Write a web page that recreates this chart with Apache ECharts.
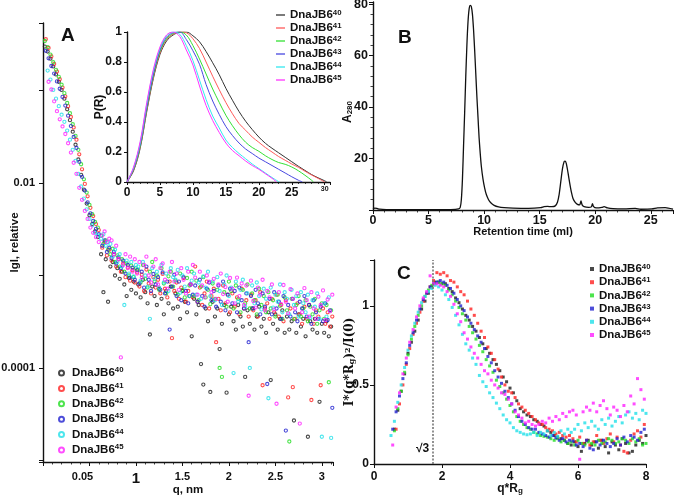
<!DOCTYPE html>
<html><head><meta charset="utf-8">
<script src="https://cdn.jsdelivr.net/npm/echarts@6/dist/echarts.min.js"></script>
<style>html,body{margin:0;padding:0;background:#fff}#c{width:675px;height:498px}</style>
</head><body><div id="c"></div>
<script>
// ---------- common ----------
const variantIds = ['40', '41', '42', '43', '44', '45'];
const pointColors = ['#1a1a1a', '#ff2020', '#20dd20', '#2020d0', '#20e0e8', '#ff20ff'];
const lineColors = ['#333333', '#ff5a5a', '#33e033', '#4848e0', '#33e8f0', '#ff33ff'];

// ---------- panel A : |I| vs q (log) ----------
const qSteepA = [0.02,0.05,0.08,0.11,0.14,0.17,0.20,0.23,0.26,0.29,0.32,0.35,0.38,0.41,0.44,0.47,0.50,0.53,0.56,0.59];
const qSteepB = [0.03,0.06,0.09,0.12,0.15,0.18,0.21,0.24,0.27,0.30,0.33,0.36,0.39,0.42,0.45,0.48,0.51,0.54,0.57,0.60];
const qFlatA = [0.625,0.65,0.675,0.70,0.725,0.75,0.775,0.80,0.825,0.85,0.875,0.90,0.925,0.95,0.975,1.00,1.025,1.05,1.075,1.10,
  1.125,1.15,1.175,1.20,1.225,1.25,1.275,1.30,1.325,1.35,1.375,1.40,1.425,1.45,1.475,1.50,1.525,1.55,1.575,1.60,
  1.625,1.65,1.675,1.70,1.725,1.75,1.775,1.80,1.825,1.85,1.875,1.90,1.925,1.95,1.975,2.00,2.025,2.05,2.075,2.10,
  2.125,2.15,2.175,2.20,2.225,2.25,2.275,2.30,2.325,2.35,2.375,2.40,2.425,2.45,2.475,2.50,2.525,2.55,2.575,2.60,
  2.625,2.65,2.675,2.70,2.725,2.75,2.775,2.80,2.825,2.85,2.875,2.90,2.925,2.95,2.975,3.00,3.025,3.05,3.075,3.10];
const qFlatB = [0.6375,0.6625,0.6875,0.7125,0.7375,0.7625,0.7875,0.8125,0.8375,0.8625,0.8875,0.9125,0.9375,0.9625,0.9875,1.0125,1.0375,1.0625,1.0875,1.1125,
  1.1375,1.1625,1.1875,1.2125,1.2375,1.2625,1.2875,1.3125,1.3375,1.3625,1.3875,1.4125,1.4375,1.4625,1.4875,1.5125,1.5375,1.5625,1.5875,1.6125,
  1.6375,1.6625,1.6875,1.7125,1.7375,1.7625,1.7875,1.8125,1.8375,1.8625,1.8875,1.9125,1.9375,1.9625,1.9875,2.0125,2.0375,2.0625,2.0875,2.1125,
  2.1375,2.1625,2.1875,2.2125,2.2375,2.2625,2.2875,2.3125,2.3375,2.3625,2.3875,2.4125,2.4375,2.4625,2.4875,2.5125,2.5375,2.5625,2.5875,2.6125,
  2.6375,2.6625,2.6875,2.7125,2.7375,2.7625,2.7875,2.8125,2.8375,2.8625,2.8875,2.9125,2.9375,2.9625,2.9875,3.0125,3.0375,3.0625,3.0875,3.1125];
const steep40 = [0.30,0.265,0.222,0.183,0.150,0.125,0.102,0.082,0.063,0.048,0.036,0.026,0.018,0.0123,0.0085,0.0060,0.0045,0.0036,0.0030,0.0026];
const steep41 = [0.36,0.29,0.235,0.195,0.161,0.133,0.108,0.087,0.068,0.052,0.040,0.0295,0.0205,0.0141,0.0098,0.0072,0.0054,0.0044,0.0036,0.0031];
const steep42 = [0.345,0.296,0.246,0.203,0.168,0.141,0.116,0.094,0.0736,0.0571,0.0434,0.0324,0.0229,0.0160,0.0110,0.0079,0.0058,0.0046,0.0038,0.0033];
const steep43 = [0.27,0.224,0.185,0.153,0.126,0.105,0.0857,0.069,0.0537,0.0414,0.0316,0.0240,0.0170,0.0117,0.0083,0.0062,0.0047,0.0039,0.0032,0.0028];
const steep44 = [null,0.165,0.132,0.102,0.082,0.068,0.055,0.046,0.037,0.0295,0.0229,0.0174,0.0126,0.0092,0.0068,0.0052,0.0041,0.0035,0.0029,0.0027];
const steep45 = [null,0.125,0.103,0.0767,0.060,0.049,0.041,0.034,0.027,0.0214,0.0166,0.0126,0.0089,0.0066,0.0050,0.0041,0.0033,0.0029,0.0026,0.0023];
const flat40 = [17e-4,6.6e-4,15e-4,5.2e-4,12.5e-4,14e-4,10e-4,12e-4,9.2e-4,11e-4,8.0e-4,6.0e-4,9.4e-4,7.0e-4,8.6e-4,6.4e-4,
  8.0e-4,5.8e-4,9.0e-4,6.6e-4,5.0e-4,2.3e-4,7.6e-4,6.0e-4,4.8e-4,7.2e-4,5.6e-4,3.8e-4,6.8e-4,5.0e-4,7.6e-4,4.4e-4,
  6.4e-4,4.6e-4,3.4e-4,6.8e-4,5.2e-4,4.0e-4,6.0e-4,2.2e-4,5.6e-4,3.8e-4,4.8e-4,1.1e-4,0.66e-4,4.4e-4,3.2e-4,0.55e-4,
  5.2e-4,3.6e-4,4.4e-4,1.6e-4,3.0e-4,4.8e-4,0.54e-4,3.8e-4,4.6e-4,3.2e-4,2.6e-4,4.8e-4,3.6e-4,2.8e-4,0.80e-4,4.2e-4,
  3.0e-4,4.4e-4,2.6e-4,3.6e-4,4.6e-4,2.8e-4,3.4e-4,2.4e-4,4.0e-4,0.74e-4,3.0e-4,3.8e-4,2.6e-4,3.4e-4,4.2e-4,2.4e-4,
  3.6e-4,2.6e-4,3.2e-4,0.27e-4,2.4e-4,3.8e-4,2.8e-4,3.4e-4,2.2e-4,0.18e-4,3.2e-4,2.6e-4,3.4e-4,2.4e-4,0.43e-4,3.0e-4,
  2.4e-4,3.2e-4,2.2e-4,2.8e-4];
const flat41 = [20e-4,23e-4,16.5e-4,19e-4,14.5e-4,17e-4,12.5e-4,15e-4,11e-4,13.5e-4,9.6e-4,12.2e-4,8.8e-4,11.4e-4,8.4e-4,10.8e-4,
  7.6e-4,10.2e-4,6.8e-4,11.6e-4,8.2e-4,6.4e-4,9.6e-4,7.4e-4,9.0e-4,6.4e-4,10.4e-4,7.2e-4,5.8e-4,8.6e-4,2.1e-4,6.8e-4,
  8.4e-4,5.6e-4,7.4e-4,9.4e-4,5.2e-4,6.8e-4,8.0e-4,5.8e-4,12.5e-4,5.2e-4,7.4e-4,4.8e-4,6.4e-4,8.6e-4,4.4e-4,6.0e-4,
  7.2e-4,1.9e-4,5.6e-4,4.2e-4,7.8e-4,5.0e-4,6.2e-4,4.0e-4,6.4e-4,4.6e-4,5.8e-4,3.8e-4,7.2e-4,4.4e-4,5.4e-4,3.6e-4,
  6.2e-4,4.2e-4,5.4e-4,3.6e-4,6.6e-4,0.65e-4,4.4e-4,5.0e-4,3.4e-4,5.6e-4,4.0e-4,6.2e-4,3.6e-4,4.8e-4,3.2e-4,5.4e-4,
  0.48e-4,4.4e-4,0.62e-4,3.4e-4,5.0e-4,3.8e-4,3.0e-4,4.6e-4,3.4e-4,4.8e-4,0.45e-4,3.0e-4,4.2e-4,3.6e-4,0.65e-4,4.4e-4,
  3.0e-4,4.0e-4,2.8e-4,3.6e-4];
const flat42 = [27e-4,22e-4,24e-4,19e-4,17e-4,19.5e-4,14e-4,16.5e-4,12.5e-4,15e-4,11e-4,13.5e-4,10e-4,12.8e-4,9.6e-4,12e-4,
  11.5e-4,8.4e-4,13e-4,9.2e-4,7.4e-4,11e-4,14e-4,8.6e-4,10e-4,7.0e-4,12e-4,8.2e-4,6.4e-4,9.8e-4,11e-4,7.6e-4,
  8.8e-4,6.2e-4,10.5e-4,7.0e-4,5.8e-4,9.4e-4,7.8e-4,11e-4,6.0e-4,8.8e-4,5.4e-4,7.6e-4,9.6e-4,5.8e-4,7.0e-4,4.9e-4,
  8.2e-4,5.6e-4,7.0e-4,1.0e-4,0.8e-4,6.6e-4,4.6e-4,8.6e-4,6.8e-4,4.4e-4,7.8e-4,5.6e-4,4.0e-4,7.0e-4,5.0e-4,8.0e-4,
  4.4e-4,6.4e-4,5.4e-4,3.8e-4,7.2e-4,4.8e-4,6.0e-4,4.0e-4,6.6e-4,4.4e-4,5.4e-4,3.6e-4,6.2e-4,4.7e-4,3.4e-4,5.8e-4,
  4.2e-4,0.16e-4,5.6e-4,3.4e-4,4.8e-4,6.0e-4,3.6e-4,4.4e-4,5.4e-4,3.2e-4,4.6e-4,3.8e-4,5.6e-4,3.0e-4,4.2e-4,5.0e-4,
  3.4e-4,4.8e-4,0.7e-4,4.2e-4];
const flat43 = [21e-4,24e-4,18e-4,20e-4,15.5e-4,18e-4,13.5e-4,15.8e-4,12e-4,14.5e-4,10.5e-4,13e-4,9.5e-4,12.2e-4,9.0e-4,11.5e-4,
  8.2e-4,11e-4,7.4e-4,12.5e-4,9.0e-4,6.8e-4,10.4e-4,8.0e-4,9.6e-4,7.0e-4,10.8e-4,6.4e-4,8.6e-4,2.6e-4,7.6e-4,10.2e-4,
  6.0e-4,8.6e-4,5.4e-4,9.6e-4,6.8e-4,5.0e-4,8.0e-4,6.2e-4,7.8e-4,5.2e-4,9.0e-4,6.0e-4,4.6e-4,7.2e-4,8.4e-4,5.4e-4,
  6.8e-4,4.6e-4,7.8e-4,5.2e-4,8.6e-4,4.2e-4,6.2e-4,7.2e-4,5.0e-4,6.8e-4,4.0e-4,7.4e-4,5.4e-4,4.4e-4,6.4e-4,1.9e-4,
  6.0e-4,4.4e-4,7.0e-4,5.0e-4,3.8e-4,6.4e-4,4.6e-4,0.67e-4,5.6e-4,3.8e-4,6.6e-4,4.4e-4,5.2e-4,3.4e-4,6.0e-4,0.21e-4,
  4.8e-4,3.6e-4,5.6e-4,4.0e-4,3.2e-4,5.2e-4,4.4e-4,6.0e-4,3.6e-4,4.8e-4,3.0e-4,5.4e-4,4.0e-4,3.4e-4,4.6e-4,3.2e-4,
  5.0e-4,3.3e-4,4.2e-4,0.37e-4];
const flat44 = [25e-4,28e-4,21e-4,23e-4,22e-4,16e-4,19e-4,14e-4,17e-4,12.5e-4,4.8e-4,14.5e-4,10.5e-4,14e-4,9.8e-4,13e-4,
  12.5e-4,8.8e-4,14e-4,10e-4,7.6e-4,3.4e-4,12e-4,9.2e-4,11e-4,7.4e-4,13e-4,8.4e-4,10.5e-4,6.8e-4,12e-4,9.6e-4,
  9.0e-4,11.5e-4,6.5e-4,10e-4,7.6e-4,12e-4,6.0e-4,8.8e-4,10.5e-4,6.2e-4,8.4e-4,5.6e-4,9.8e-4,7.4e-4,11e-4,6.0e-4,
  8.6e-4,5.4e-4,9.6e-4,6.8e-4,4.8e-4,8.0e-4,10e-4,6.0e-4,7.4e-4,0.88e-4,8.6e-4,5.2e-4,7.0e-4,9.0e-4,4.6e-4,6.4e-4,
  1.0e-4,7.8e-4,5.0e-4,8.4e-4,6.0e-4,4.3e-4,7.2e-4,5.6e-4,0.47e-4,7.4e-4,4.5e-4,6.2e-4,5.2e-4,8.0e-4,4.0e-4,6.6e-4,
  5.6e-4,3.8e-4,7.0e-4,4.8e-4,6.0e-4,3.6e-4,6.6e-4,5.0e-4,4.0e-4,6.2e-4,3.5e-4,5.4e-4,4.6e-4,6.4e-4,3.4e-4,0.18e-4,
  5.0e-4,3.6e-4,5.8e-4,0.175e-4];
const flat45 = [27e-4,30e-4,23e-4,25e-4,24e-4,17e-4,21e-4,15e-4,1.3e-4,13e-4,17e-4,12e-4,16e-4,11e-4,15e-4,10.5e-4,
  14e-4,9.5e-4,13e-4,16e-4,10e-4,8.4e-4,12.5e-4,15e-4,8.0e-4,12e-4,13.5e-4,9.0e-4,7.2e-4,11e-4,14e-4,8.6e-4,
  10.5e-4,7.0e-4,12e-4,9.0e-4,6.4e-4,11e-4,8.0e-4,13e-4,9.5e-4,6.2e-4,11e-4,7.8e-4,5.8e-4,10e-4,8.6e-4,6.6e-4,
  9.2e-4,5.6e-4,8.0e-4,10.5e-4,6.3e-4,7.5e-4,5.2e-4,9.4e-4,7.2e-4,5.0e-4,9.5e-4,6.0e-4,8.2e-4,4.8e-4,7.8e-4,0.5e-4,
  8.8e-4,5.3e-4,4.5e-4,7.4e-4,6.2e-4,9.0e-4,4.2e-4,6.8e-4,5.8e-4,8.0e-4,4.3e-4,0.41e-4,6.6e-4,4.9e-4,7.9e-4,5.2e-4,
  3.9e-4,7.1e-4,5.6e-4,4.4e-4,6.4e-4,0.25e-4,4.0e-4,7.3e-4,5.4e-4,3.6e-4,6.6e-4,4.4e-4,3.4e-4,5.9e-4,4.8e-4,6.9e-4,
  3.3e-4,5.5e-4,4.1e-4,6.2e-4];
const aXTickValues = [0.5, 1, 1.5, 2, 2.5, 3];
const aXTickTexts = ['0.05', '1', '1.5', '2', '2.5', '3'];
const aYTickExponents = [-2, -4];
const aYTickTexts = ['0.01', '0.0001'];

// ---------- inset : P(R) ----------
const rP = [0,1,2,3,4,5,6,7,8,9,10,11,12,13,14,15,16,17,18,19,20,21,22,23,24,25,26,27,28,29,30];
const pr40 = [0,0.075,0.225,0.47,0.69,0.85,0.94,0.98,0.998,1.0,0.975,0.935,0.87,0.795,0.715,0.625,0.545,0.47,0.405,0.35,0.30,0.258,0.225,0.195,0.165,0.135,0.105,0.077,0.05,0.028,0.008];
const pr41 = [0,0.08,0.235,0.48,0.70,0.86,0.95,0.985,1.0,0.995,0.955,0.89,0.80,0.705,0.615,0.53,0.455,0.39,0.345,0.30,0.265,0.23,0.20,0.17,0.145,0.12,0.098,0.072,0.047,0.024];
const pr42 = [0,0.085,0.24,0.49,0.71,0.87,0.955,0.99,1.0,0.98,0.91,0.82,0.72,0.62,0.53,0.445,0.375,0.315,0.265,0.23,0.205,0.175,0.15,0.13,0.118,0.10,0.075,0.045,0.012];
const pr43 = [0,0.09,0.25,0.50,0.72,0.88,0.965,0.995,1.0,0.95,0.875,0.785,0.65,0.54,0.45,0.37,0.31,0.26,0.22,0.19,0.16,0.135,0.11,0.085,0.06,0.035,0.012];
const pr44 = [0,0.095,0.26,0.52,0.74,0.89,0.975,1.0,0.985,0.91,0.81,0.68,0.55,0.44,0.36,0.28,0.23,0.19,0.155,0.12,0.09,0.06,0.03];
const pr45 = [0,0.10,0.27,0.53,0.75,0.90,0.98,1.0,0.97,0.88,0.78,0.64,0.51,0.41,0.33,0.26,0.21,0.175,0.14,0.11,0.085,0.055,0.025];
const dMax = [30.3, 30.0, 28.3, 26.6, 23.1, 22.7];

// ---------- panel B : chromatogram ----------
const retention = [0,0.15,0.35,0.6,1.2,3,5,7,7.7,7.85,7.95,8.05,8.15,8.25,8.35,8.45,8.55,8.65,8.75,8.85,8.95,9.05,9.15,9.25,9.35,9.45,9.55,9.65,9.75,9.9,
  10.05,10.2,10.4,10.6,10.9,11.3,11.8,12.6,14,15.1,15.4,15.7,16.1,16.4,16.6,16.75,16.9,17.05,17.2,17.3,17.4,17.55,17.7,17.85,18.0,18.2,18.4,18.6,18.72,18.82,
  19.0,19.4,19.65,19.75,19.85,20.1,20.6,20.8,21.1,21.6,22.6,23.6,24.1,25.1,25.6,26.3,27.0];
const a280 = [0.3,0.7,0.6,0.3,0.15,0.1,0.1,0.15,0.4,1.0,4,12,25,38,52,64,73,78,79.5,79,76,70,62,53,44,36,28,22,17,12,
  8.5,6,4,2.8,1.8,1.2,0.9,0.7,0.6,0.9,1.3,1.4,1.3,1.6,3,6,11,16,18.8,19,18,14.5,10.5,7,4.5,3,2.2,2.0,3.5,2.0,
  1.3,1.0,1.2,2.5,1.3,0.8,1.0,1.3,0.8,0.5,0.4,0.6,0.3,0.4,0.8,0.9,0.3];

// ---------- panel C : Kratky ----------
const qRgA = [0.5,0.6,0.7,0.8,0.9,1.0,1.1,1.2,1.3,1.4,1.5,1.6,1.7,1.8,1.9,2.0,2.1,2.2,2.3,2.4,2.5,2.6,2.7,2.8,2.9,3.0,3.1,3.2,3.3,3.4,
  3.5,3.6,3.7,3.8,3.9,4.0,4.1,4.2,4.3,4.4,4.5,4.6,4.7,4.8,4.9,5.0,5.1,5.2,5.3,5.4,5.5,5.6,5.7,5.8,5.9,6.0,6.1,6.2,6.3,6.4,
  6.5,6.6,6.7,6.8,6.9,7.0,7.1,7.2,7.3,7.4,7.5,7.6,7.7,7.8,7.9,8.0];
const qRgB = [0.55,0.65,0.75,0.85,0.95,1.05,1.15,1.25,1.35,1.45,1.55,1.65,1.75,1.85,1.95,2.05,2.15,2.25,2.35,2.45,2.55,2.65,2.75,2.85,2.95,3.05,3.15,3.25,3.35,3.45,
  3.55,3.65,3.75,3.85,3.95,4.05,4.15,4.25,4.35,4.45,4.55,4.65,4.75,4.85,4.95,5.05,5.15,5.25,5.35,5.45,5.55,5.65,5.75,5.85,5.95,6.05,6.15,6.25,6.35,6.45,
  6.55,6.65,6.75,6.85,6.95,7.05,7.15,7.25,7.35,7.45,7.55,7.65,7.75,7.85,7.95];
const kratky40 = [null,0.22,0.34,0.46,0.57,0.70,0.77,0.84,0.91,0.98,1.03,1.08,1.12,1.15,1.15,1.14,1.14,1.11,1.09,1.05,
  1.02,0.98,0.94,0.91,0.87,0.84,0.80,0.76,0.73,0.70,0.66,0.63,0.59,0.55,0.52,0.48,0.45,0.40,0.35,0.33,
  0.31,0.30,0.28,0.27,0.25,0.24,0.21,0.20,0.18,0.17,0.16,0.15,0.13,0.12,0.14,0.11,0.08,0.13,0.15,0.12,
  0.14,0.10,0.15,0.11,0.07,0.14,0.12,0.09,0.16,0.13,0.07,0.08,0.12,0.15,0.13,0.18];
const kratky41 = [null,0.22,0.38,0.50,0.63,0.73,0.82,0.89,0.96,1.03,1.08,1.12,1.16,1.21,1.20,1.21,1.19,1.16,1.15,1.12,
  1.09,1.07,1.03,0.98,0.94,0.89,0.84,0.80,0.74,0.70,0.66,0.60,0.55,0.50,0.46,0.45,0.42,0.38,0.36,0.34,
  0.32,0.30,0.28,0.26,0.25,0.23,0.22,0.21,0.19,0.20,0.18,0.17,0.18,0.16,0.14,0.17,0.13,0.15,0.12,0.14,
  0.18,0.15,0.13,0.16,0.19,0.14,0.17,0.12,0.08,0.07,0.15,0.19,0.21,0.17,0.25];
const kratky42 = [null,0.21,0.35,0.46,0.58,0.69,0.79,0.87,0.94,1.00,1.06,1.10,1.13,1.14,1.15,1.14,1.13,1.10,1.07,1.03,
  0.99,0.95,0.91,0.87,0.83,0.79,0.75,0.71,0.66,0.62,0.58,0.53,0.49,0.45,0.41,0.37,0.33,0.30,0.27,0.25,
  0.23,0.22,0.20,0.19,0.18,0.175,0.17,0.16,0.15,0.16,0.14,0.15,0.13,0.14,0.12,0.15,0.13,0.12,0.14,0.13,
  0.12,0.15,0.13,0.14,0.16,0.15,0.13,0.14,0.16,0.15,0.13,0.16,0.14,0.16,0.12,0.13];
const kratky43 = [0.22,0.33,0.43,0.54,0.64,0.75,0.83,0.91,0.98,1.04,1.08,1.12,1.14,1.15,1.16,1.15,1.13,1.11,1.08,1.04,
  1.00,0.97,0.93,0.89,0.85,0.81,0.77,0.73,0.68,0.64,0.59,0.55,0.51,0.46,0.42,0.38,0.34,0.30,0.27,0.25,
  0.23,0.22,0.22,0.20,0.19,0.18,0.17,0.18,0.165,0.15,0.16,0.14,0.15,0.145,0.12,0.13,0.11,0.15,0.10,0.09,
  0.14,0.12,0.15,0.13,0.11,0.13,0.16,0.12,0.17,0.14,0.18,0.17,0.15,0.20,0.22];
const kratky44 = [0.18,0.27,0.39,0.50,0.61,0.72,0.81,0.89,0.96,1.02,1.06,1.09,1.11,1.13,1.12,1.10,1.07,1.04,0.99,0.94,
  0.88,0.82,0.76,0.72,0.67,0.63,0.56,0.52,0.49,0.45,0.42,0.385,0.35,0.31,0.28,0.26,0.23,0.21,0.20,0.19,
  0.185,0.19,0.20,0.18,0.20,0.19,0.21,0.18,0.20,0.175,0.21,0.19,0.22,0.20,0.22,0.25,0.21,0.26,0.23,0.27,
  0.24,0.22,0.28,0.25,0.29,0.24,0.27,0.30,0.26,0.31,0.33,0.29,0.32,0.28,0.34,0.32];
const kratky45 = [0.12,0.36,0.45,0.57,0.67,0.77,0.85,0.93,1.00,1.05,1.09,1.19,1.14,1.14,1.13,1.12,1.09,1.06,1.01,0.95,
  0.90,0.83,0.79,0.74,0.70,0.67,0.63,0.59,0.57,0.53,0.50,0.48,0.45,0.44,0.41,0.38,0.33,0.31,0.29,0.26,
  0.27,0.25,0.24,0.25,0.27,0.26,0.29,0.27,0.30,0.28,0.32,0.30,0.33,0.34,0.31,0.03,0.33,0.36,0.34,0.385,
  0.33,0.37,0.40,0.35,0.31,0.36,0.34,0.30,0.37,0.33,0.43,0.38,0.54,0.47,0.41];
const sqrt3Marker = 1.732;

// ---------- build ----------
const FONT = '"Liberation Sans", Arial, sans-serif';
const SERIF = '"DejaVu Serif", "Liberation Serif", serif';
const INK = '#111';
const baseLabel = { color: INK, fontFamily: FONT, fontWeight: 'bold', fontSize: 12 };
const axisLineS = { show: true, lineStyle: { color: INK, width: 1.4 } };
const tickS = (len) => ({ show: true, length: len, inside: false, lineStyle: { color: INK, width: 1 } });
const minorS = (n, len) => ({ show: true, splitNumber: n, length: len, lineStyle: { color: INK, width: 0.8 } });
const noSplit = { show: false };

function legendRich(fs, lh) {
  return {
    n: { fontFamily: FONT, fontWeight: 'bold', fontSize: fs, color: INK, lineHeight: lh },
    s: { fontFamily: FONT, fontWeight: 'bold', fontSize: fs * 0.68, color: INK, verticalAlign: 'top', lineHeight: fs * 0.8 }
  };
}
const legendFormatter = (name) => '{n|DnaJB6}{s|' + name.slice(1) + '}';

const series = [];
const steepVals = [steep40, steep41, steep42, steep43, steep44, steep45];
const flatVals = [flat40, flat41, flat42, flat43, flat44, flat45];
const steepQs = [qSteepA, qSteepB, qSteepA, qSteepB, qSteepA, qSteepB];
const flatQs = [qFlatA, qFlatB, qFlatA, qFlatB, qFlatA, qFlatB];
variantIds.forEach((id, i) => {
  const pts = steepQs[i].map((q, k) => [q, steepVals[i][k]])
    .concat(flatQs[i].map((q, k) => [q, flatVals[i][k]]))
    .filter(d => d[1] != null);
  series.push({
    type: 'scatter', name: 'A' + id, xAxisIndex: 0, yAxisIndex: 0,
    symbol: 'circle', symbolSize: 3.2,
    itemStyle: { color: 'rgba(255,255,255,0)', borderColor: pointColors[i], borderWidth: 1.1 },
    data: pts
  });
});
const prVals = [pr40, pr41, pr42, pr43, pr44, pr45];
variantIds.forEach((id, i) => {
  series.push({
    type: 'line', name: 'P' + id, xAxisIndex: 1, yAxisIndex: 1,
    showSymbol: false, symbol: 'none', smooth: 0.35,
    lineStyle: { color: lineColors[i], width: 1 }, itemStyle: { color: lineColors[i] },
    data: prVals[i].map((p, k) => [rP[k], p]).concat([[dMax[i], 0]])
  });
});
series.push({
  type: 'line', name: 'B', xAxisIndex: 2, yAxisIndex: 2, showSymbol: false, symbol: 'none', smooth: 0.25,
  lineStyle: { color: INK, width: 1.3 },
  data: retention.map((x, k) => [x, a280[k]])
});
const cVals = [kratky40, kratky41, kratky42, kratky43, kratky44, kratky45];
const cQs = [qRgA, qRgB, qRgA, qRgB, qRgA, qRgB];
variantIds.forEach((id, i) => {
  const s = {
    type: 'scatter', name: 'C' + id, xAxisIndex: 3, yAxisIndex: 3,
    symbol: 'rect', symbolSize: 3,
    itemStyle: { color: pointColors[i] },
    data: cQs[i].map((q, k) => [q, cVals[i][k]]).filter(d => d[1] != null)
  };
  if (i === 0) {
    s.markLine = {
      silent: true, symbol: ['none', 'none'], label: { show: false },
      lineStyle: { color: '#777', type: [2, 1.5], width: 1.6 },
      data: [{ xAxis: sqrt3Marker }]
    };
  }
  series.push(s);
});

const option = {
  animation: false,
  backgroundColor: '#fff',
  grid: [
    { left: 43, top: 23, width: 290, height: 439, outerBoundsMode: 'none' },
    { left: 127, top: 32, width: 203, height: 150, outerBoundsMode: 'none' },
    { left: 373, top: 2, width: 300, height: 208, outerBoundsMode: 'none' },
    { left: 374, top: 260, width: 272, height: 204, outerBoundsMode: 'none' }
  ],
  xAxis: [
    { gridIndex: 0, type: 'value', min: 0, max: 3.12, interval: 0.5,
      axisLine: axisLineS, axisTick: tickS(4), minorTick: minorS(5, 2.5), splitLine: noSplit,
      axisLabel: Object.assign({}, baseLabel, { fontSize: 11, margin: 9,
        formatter: (v) => { const k = aXTickValues.indexOf(v); if (k < 0) return ''; const t = aXTickTexts[k];
          return t === '1' ? '{big|1}' : (k === 0 ? '{sh|' + t + '}' : t); },
        rich: { big: { fontSize: 15, fontWeight: 'bold', fontFamily: FONT, color: INK },
                sh: { fontSize: 11, fontWeight: 'bold', fontFamily: FONT, color: INK, padding: [0, 14, 0, 0] } } }),
      name: 'q, nm', nameLocation: 'middle', nameGap: 22, nameMoveOverlap: false,
      nameTextStyle: { color: INK, fontFamily: FONT, fontWeight: 'bold', fontSize: 11.5 } },
    { gridIndex: 1, type: 'value', min: 0, max: 30.8, interval: 5,
      axisLine: axisLineS, axisTick: tickS(3), minorTick: minorS(5, 2), splitLine: noSplit,
      axisLabel: Object.assign({}, baseLabel, { margin: 5,
        formatter: (v) => v === 30 ? '{s|30}' : (v % 5 === 0 && v < 30 ? String(v) : ''),
        rich: { s: { fontSize: 7, fontWeight: 'bold', fontFamily: FONT, color: INK, lineHeight: 5 } } }) },
    { gridIndex: 2, type: 'value', min: 0, max: 27, interval: 5,
      axisLine: axisLineS, axisTick: tickS(4), minorTick: minorS(5, 2.5), splitLine: noSplit,
      axisLabel: Object.assign({}, baseLabel, { margin: 4, fontSize: 12.5,
        formatter: (v) => (v % 5 === 0 ? String(v) : '') }),
      name: 'Retention time (ml)', nameLocation: 'middle', nameGap: 16, nameMoveOverlap: false,
      nameTextStyle: { color: INK, fontFamily: FONT, fontWeight: 'bold', fontSize: 11 } },
    { gridIndex: 3, type: 'value', min: 0, max: 8, interval: 2,
      axisLine: axisLineS, axisTick: tickS(4), splitLine: noSplit,
      axisLabel: Object.assign({}, baseLabel, { margin: 7 }),
      name: 'q*R{g|g}', nameLocation: 'middle', nameGap: 19, nameMoveOverlap: false,
      nameTextStyle: { color: INK, fontFamily: FONT, fontWeight: 'bold', fontSize: 12,
        rich: { g: { fontFamily: FONT, fontWeight: 'bold', fontSize: 8, color: INK, verticalAlign: 'bottom' } } } }
  ],
  yAxis: [
    { gridIndex: 0, type: 'log', logBase: 10, min: 9.6e-6, max: 0.54,
      axisLine: axisLineS, axisTick: tickS(4), splitLine: noSplit, minorTick: { show: false },
      axisLabel: Object.assign({}, baseLabel, { fontSize: 11, margin: 8,
        formatter: (v) => { const e = Math.round(Math.log10(v) * 1000) / 1000; const k = aYTickExponents.indexOf(e); return k < 0 ? '' : aYTickTexts[k]; } }),
      name: 'lgl, relative', nameLocation: 'middle', nameRotate: 90, nameGap: 22, nameMoveOverlap: false,
      nameTextStyle: { color: INK, fontFamily: FONT, fontWeight: 'bold', fontSize: 11.5 } },
    { gridIndex: 1, type: 'value', min: 0, max: 1, interval: 0.2,
      axisLine: axisLineS, axisTick: tickS(3), splitLine: noSplit,
      axisLabel: Object.assign({}, baseLabel, { margin: 5 }),
      name: 'P(R)', nameLocation: 'middle', nameRotate: 90, nameGap: 21, nameMoveOverlap: false,
      nameTextStyle: { color: INK, fontFamily: FONT, fontWeight: 'bold', fontSize: 12 } },
    { gridIndex: 2, type: 'value', min: 0, max: 80.8, interval: 20,
      axisLine: axisLineS, axisTick: tickS(4), minorTick: minorS(5, 2.5), splitLine: noSplit,
      axisLabel: Object.assign({}, baseLabel, { margin: 5, fontSize: 12.5,
        formatter: (v) => (v > 0 && v % 20 === 0 ? String(v) : '') }),
      name: '{a|A}{s|280}', nameLocation: 'middle', nameRotate: 90, nameGap: 19, nameMoveOverlap: false,
      nameTextStyle: { padding: [0, 12, 0, 0],
        rich: { a: { fontFamily: FONT, fontWeight: 'bold', fontSize: 12, color: INK },
                s: { fontFamily: FONT, fontWeight: 'bold', fontSize: 8, color: INK, verticalAlign: 'bottom' } } } },
    { gridIndex: 3, type: 'value', min: 0, max: 1.29, interval: 0.5,
      axisLine: axisLineS, axisTick: tickS(4), splitLine: noSplit,
      axisLabel: Object.assign({}, baseLabel, { margin: 5,
        formatter: (v) => (Math.abs(v * 2 - Math.round(v * 2)) < 1e-9 ? String(v) : '') }),
      name: '{t|I*(q*R}{g|g}{t|)}{p|2}{t|/I(0)}', nameLocation: 'middle', nameRotate: 90, nameGap: 18, nameMoveOverlap: false,
      nameTextStyle: {
        rich: { t: { fontFamily: SERIF, fontWeight: 'bold', fontSize: 12, color: INK },
                g: { fontFamily: SERIF, fontWeight: 'bold', fontSize: 8, color: INK, verticalAlign: 'bottom' },
                p: { fontFamily: SERIF, fontWeight: 'bold', fontSize: 8, color: INK, verticalAlign: 'top' } } } }
  ],
  legend: [
    { data: variantIds.map(id => 'A' + id), orient: 'vertical', left: 53, top: 361,
      itemWidth: 5, itemHeight: 5, itemGap: 2.4, selectedMode: false, icon: 'circle',
      formatter: legendFormatter, textStyle: { padding: [0, 0, 0, 3], rich: legendRich(11.5, 14) } },
    { data: variantIds.map(id => 'P' + id), orient: 'vertical', left: 271, top: 4,
      itemWidth: 9, itemHeight: 1.3, itemGap: 1, selectedMode: false, icon: 'rect',
      formatter: legendFormatter, textStyle: { rich: legendRich(11.5, 12) } },
    { data: variantIds.map(id => 'C' + id), orient: 'vertical', left: 585, top: 258,
      itemWidth: 4, itemHeight: 4, itemGap: 1.2, selectedMode: false, icon: 'rect',
      formatter: legendFormatter, textStyle: { rich: legendRich(11.5, 12) } }
  ],
  graphic: [
    { type: 'text', left: 61, top: 26, style: { text: 'A', font: 'bold 19px "Liberation Sans", Arial', fill: INK } },
    { type: 'text', left: 398, top: 28, style: { text: 'B', font: 'bold 19px "Liberation Sans", Arial', fill: INK } },
    { type: 'text', left: 397, top: 264, style: { text: 'C', font: 'bold 19px "Liberation Sans", Arial', fill: INK } },
    { type: 'text', left: 416, top: 443, style: { text: '√3', font: 'bold 12px "Liberation Sans", Arial', fill: INK } }
  ],
  series: series
};
const chart = echarts.init(document.getElementById('c'), null, { renderer: 'canvas' });
chart.setOption(option);
</script>
</body></html>
